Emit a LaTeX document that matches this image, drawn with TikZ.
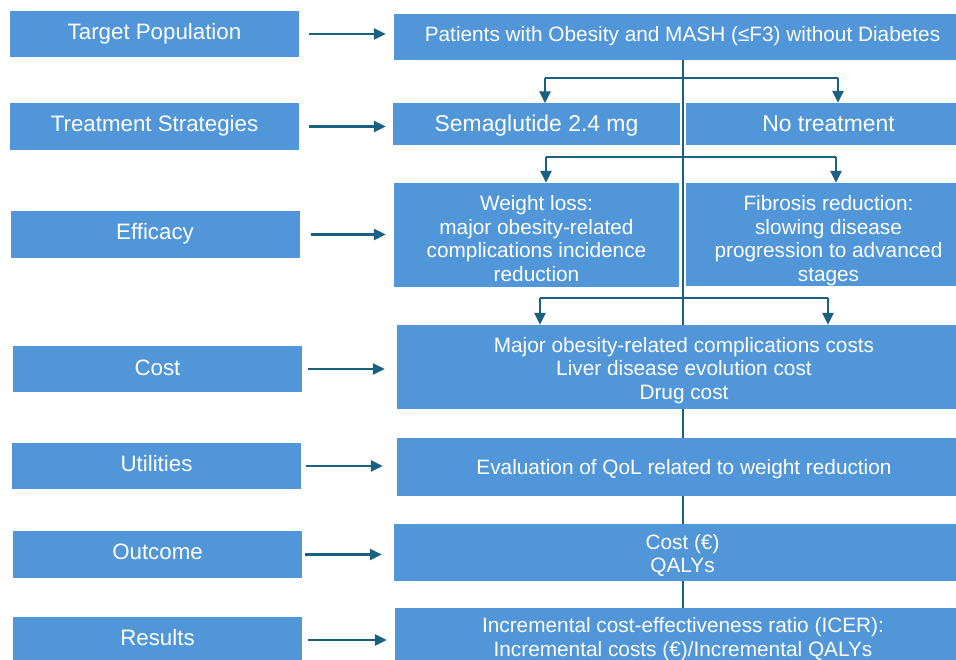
\documentclass[tikz,border=0pt]{standalone}
\usepackage{fontspec}
\setmainfont{Liberation Sans}
\usetikzlibrary{arrows.meta}
\definecolor{boxblue}{RGB}{80,150,216}
\definecolor{linecol}{RGB}{26,96,130}
% #1 = distance of first baseline below the box centre
\newcommand\bt[2][0pt]{\raisebox{-#1}[0pt][0pt]{\begin{tabular}[t]{@{}c@{}}#2\end{tabular}}}
\tikzset{
  box/.style={fill=boxblue, draw=none, text=white, inner sep=0pt, anchor=center},
  lbox/.style={box, minimum width=289pt, font=\fontsize{22.3}{24}\selectfont},
  rbox/.style={box, font=\fontsize{20.8}{23.5}\selectfont},
  sbox/.style={box, font=\fontsize{22.9}{25}\selectfont},
  conn/.style={draw=linecol, line width=2.8pt},
  arr/.style={conn, -{Triangle[length=12pt,width=11pt]}},
}
\begin{document}
\begin{tikzpicture}[x=1pt,y=-1pt]
\useasboundingbox (0,0) rectangle (956,660);
\clip (0,0) rectangle (956,660);
\fill[white] (0,0) rectangle (956,660);

% left column
\node[lbox, minimum height=46pt] (L1) at (154.5,34) {\bt[6pt]{Target Population}};
\node[lbox, minimum height=47pt] (L2) at (154.5,126.5) {\bt[5.2pt]{Treatment Strategies}};
\node[lbox, minimum height=47pt] (L3) at (155,234.5) {\bt[4.8pt]{Efficacy}};
\node[lbox, minimum height=46pt] (L4) at (157.5,369) {\bt[6pt]{Cost}};
\node[lbox, minimum height=46pt] (L5) at (156.5,466) {\bt[5.7pt]{Utilities}};
\node[lbox, minimum height=47pt] (L6) at (157.5,554.5) {\bt[4.8pt]{Outcome}};
\node[lbox, minimum height=46pt] (L7) at (157.5,640) {\bt[5pt]{Results}};

% main spine
\coordinate (top) at (683,60);
\coordinate (bot) at (683,608);
\draw[conn] (top) -- (bot);

% branch points
\coordinate (b1l) at (545,78);
\coordinate (b1r) at (838,78);
\coordinate (b2l) at (546,157);
\coordinate (b2r) at (836,157);
\coordinate (b3l) at (540,298);
\coordinate (b3r) at (828,298);

% right boxes
\node[rbox, minimum width=577pt, minimum height=46pt] (R1) at (682.5,37) {\bt[4.7pt]{Patients with Obesity and MASH (≤F3) without Diabetes}};
\node[sbox, minimum width=287pt, minimum height=42pt] (R2a) at (536.5,124.5) {\bt[7.2pt]{Semaglutide 2.4 mg}};
\node[sbox, minimum width=285pt, minimum height=42pt] (R2b) at (828.5,124) {\bt[7.7pt]{No treatment}};
\node[rbox, minimum width=285pt, minimum height=104pt] (R3a) at (536.5,235) {\bt[-24pt]{Weight loss:\\major obesity-related\\complications incidence\\reduction}};
\node[rbox, minimum width=285pt, minimum height=103pt] (R3b) at (828.5,234.5) {\bt[-23.8pt]{Fibrosis reduction:\\slowing disease\\progression to advanced\\stages}};
\node[rbox, minimum width=574pt, minimum height=84pt] (R4) at (684,367) {\bt[-14.7pt]{Major obesity-related complications costs\\Liver disease evolution cost\\Drug cost}};
\node[rbox, minimum width=574pt, minimum height=58pt] (R5) at (684,467) {\bt[7pt]{Evaluation of QoL related to weight reduction}};
\node[rbox, minimum width=577pt, minimum height=57pt] (R6) at (682.5,552.5) {\bt[-3.5pt]{Cost (€)\\QALYs}};
\node[rbox, minimum width=576pt, minimum height=60pt] (R7) at (683,638) {\bt[-5.3pt]{Incremental cost-effectiveness ratio (ICER):\\Incremental costs (€)/Incremental QALYs}};

% branch arrows
\draw[conn] (b1l) -- (b1r);
\draw[arr] (b1l) -- (b1l |- R2a.north);
\draw[arr] (b1r) -- (b1r |- R2b.north);
\draw[conn] (b2l) -- (b2r);
\draw[arr] (b2l) -- (b2l |- R3a.north);
\draw[arr] (b2r) -- (b2r |- R3b.north);
\draw[conn] (b3l) -- (b3r);
\draw[arr] (b3l) -- (b3l |- R4.north);
\draw[arr] (b3r) -- (b3r |- R4.north);

% horizontal arrows left -> right
\draw[arr] ([xshift=10pt]L1.east) -- ([xshift=-8pt]L1.east -| R1.west);
\draw[arr] ([xshift=10pt]L2.east) -- ([xshift=-7pt]L2.east -| R2a.west);
\draw[arr] ([xshift=11pt]L3.east) -- ([xshift=-8pt]L3.east -| R3a.west);
\draw[arr] ([xshift=6pt]L4.east) -- ([xshift=-12pt]L4.east -| R4.west);
\draw[arr] ([xshift=5pt]L5.east) -- ([xshift=-14pt]L5.east -| R5.west);
\draw[arr] ([xshift=3pt]L6.east) -- ([xshift=-12pt]L6.east -| R6.west);
\draw[arr] ([xshift=6pt]L7.east) -- ([xshift=-8pt]L7.east -| R7.west);
\end{tikzpicture}
\end{document}
